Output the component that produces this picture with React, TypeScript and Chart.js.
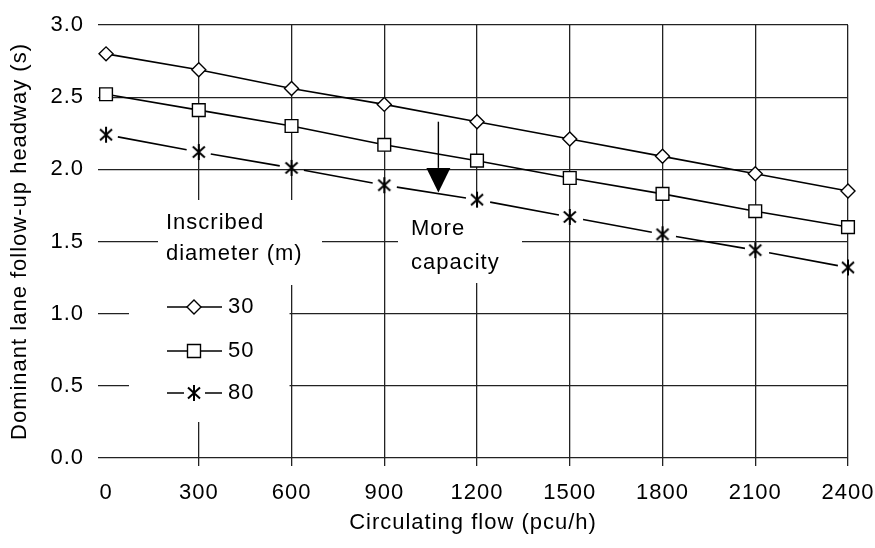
import React, { useEffect, useRef } from "react";
import { Chart, registerables } from "chart.js";

Chart.register(...registerables);

// ---------- data ----------
const flowValues = [0, 300, 600, 900, 1200, 1500, 1800, 2100, 2400];
const headway30 = [2.8, 2.69, 2.56, 2.45, 2.33, 2.21, 2.09, 1.97, 1.85];
const headway50 = [2.52, 2.41, 2.3, 2.17, 2.06, 1.94, 1.83, 1.71, 1.6];
const headway80 = [2.24, 2.12, 2.01, 1.89, 1.79, 1.67, 1.55, 1.44, 1.32];
const seriesLabels = ["30", "50", "80"];
const xTicks = [0, 300, 600, 900, 1200, 1500, 1800, 2100, 2400];
const yTicks = [0, 0.5, 1, 1.5, 2, 2.5, 3];
const xTitle = "Circulating flow (pcu/h)";
const yTitle = "Dominant lane follow-up headway (s)";
const legendTitle = ["Inscribed", "diameter (m)"];
const annotationText = ["More", "capacity"];

// arrow annotation (data coordinates)
const arrowFlow = 1075;
const arrowFromHeadway = 2.33;
const arrowHeadTopHeadway = 2.01;
const arrowTipHeadway = 1.84;

const FONT = "'Liberation Sans', Arial, sans-serif";
const INK = "#000";
const GRID = "#222";

function makeStar(): HTMLCanvasElement {
  const c = document.createElement("canvas");
  c.width = 16;
  c.height = 18;
  const g = c.getContext("2d")!;
  g.strokeStyle = INK;
  g.lineWidth = 2;
  g.beginPath();
  g.moveTo(8, 1);
  g.lineTo(8, 17);
  g.moveTo(2, 3.5);
  g.lineTo(14, 14.5);
  g.moveTo(14, 3.5);
  g.lineTo(2, 14.5);
  g.stroke();
  return c;
}

function drawDiamond(ctx: CanvasRenderingContext2D, x: number, y: number, r: number) {
  ctx.beginPath();
  ctx.moveTo(x, y - r);
  ctx.lineTo(x + r, y);
  ctx.lineTo(x, y + r);
  ctx.lineTo(x - r, y);
  ctx.closePath();
  ctx.fillStyle = "#fff";
  ctx.fill();
  ctx.stroke();
}

function drawSquare(ctx: CanvasRenderingContext2D, x: number, y: number, h: number) {
  ctx.beginPath();
  ctx.rect(x - h, y - h, 2 * h, 2 * h);
  ctx.fillStyle = "#fff";
  ctx.fill();
  ctx.stroke();
}

export default function App() {
  const ref = useRef<HTMLCanvasElement | null>(null);

  useEffect(() => {
    const canvas = ref.current;
    if (!canvas) return;
    const star = makeStar();

    const overlay = {
      id: "overlay",
      beforeDraw(chart: any) {
        const ctx = chart.ctx as CanvasRenderingContext2D;
        ctx.save();
        ctx.fillStyle = "#fff";
        ctx.fillRect(0, 0, chart.width, chart.height);
        ctx.restore();
        (ctx as any).letterSpacing = "1px";
      },
      beforeDatasetsDraw(chart: any) {
        const ctx = chart.ctx as CanvasRenderingContext2D;
        const xs = chart.scales.x;
        const x600 = xs.getPixelForValue(600);
        ctx.save();
        ctx.fillStyle = "#fff";
        // box behind "Inscribed diameter (m)"
        ctx.fillRect(158, 200, 164, 85);
        // legend box
        ctx.fillRect(129, 285, x600 - 2 - 129, 137);
        // box behind "More capacity"
        ctx.fillRect(398, 207, 124, 76);
        ctx.restore();
      },
      afterDatasetsDraw(chart: any) {
        const ctx = chart.ctx as CanvasRenderingContext2D;
        const xs = chart.scales.x;
        const ys = chart.scales.y;
        ctx.save();
        (ctx as any).letterSpacing = "1px";
        ctx.fillStyle = INK;
        ctx.font = `22px ${FONT}`;
        ctx.textAlign = "left";
        ctx.textBaseline = "middle";
        ctx.fillText(legendTitle[0], 166, 223);
        ctx.fillText(legendTitle[1], 166, 254);
        ctx.fillText(annotationText[0], 411, 229);
        ctx.fillText(annotationText[1], 411, 263);

        // legend entries
        const rows = [307, 351, 393];
        ctx.strokeStyle = INK;
        ctx.lineWidth = 1.6;
        // 30
        ctx.beginPath();
        ctx.moveTo(167, rows[0]);
        ctx.lineTo(222, rows[0]);
        ctx.stroke();
        ctx.lineWidth = 1.4;
        drawDiamond(ctx, 194, rows[0], 7);
        // 50
        ctx.lineWidth = 1.6;
        ctx.beginPath();
        ctx.moveTo(167, rows[1]);
        ctx.lineTo(222, rows[1]);
        ctx.stroke();
        ctx.lineWidth = 1.4;
        drawSquare(ctx, 194, rows[1], 6.5);
        // 80
        ctx.lineWidth = 1.6;
        ctx.beginPath();
        ctx.moveTo(167, rows[2]);
        ctx.lineTo(184, rows[2]);
        ctx.moveTo(205, rows[2]);
        ctx.lineTo(222, rows[2]);
        ctx.stroke();
        ctx.drawImage(star, 194 - star.width / 2, rows[2] - star.height / 2);
        ctx.fillStyle = INK;
        ctx.fillText(seriesLabels[0], 228, rows[0]);
        ctx.fillText(seriesLabels[1], 228, rows[1]);
        ctx.fillText(seriesLabels[2], 228, rows[2]);

        // arrow
        const ax = xs.getPixelForValue(arrowFlow);
        const ay0 = ys.getPixelForValue(arrowFromHeadway);
        const ay1 = ys.getPixelForValue(arrowHeadTopHeadway);
        const ay2 = ys.getPixelForValue(arrowTipHeadway);
        ctx.lineWidth = 1.4;
        ctx.beginPath();
        ctx.moveTo(ax, ay0);
        ctx.lineTo(ax, ay1);
        ctx.stroke();
        ctx.beginPath();
        ctx.moveTo(ax - 12, ay1);
        ctx.lineTo(ax + 12, ay1);
        ctx.lineTo(ax, ay2);
        ctx.closePath();
        ctx.fillStyle = INK;
        ctx.fill();
        ctx.restore();
      },
    };

    const mk = (vals: number[]) => flowValues.map((f, i) => ({ x: f, y: vals[i] }));

    const chart = new Chart(canvas, {
      type: "line",
      data: {
        datasets: [
          {
            label: seriesLabels[0],
            data: mk(headway30),
            borderColor: INK,
            borderWidth: 1.6,
            pointStyle: "rectRot",
            pointRadius: 7,
            pointBackgroundColor: "#fff",
            pointBorderColor: INK,
            pointBorderWidth: 1.4,
            tension: 0,
            clip: false,
          },
          {
            label: seriesLabels[1],
            data: mk(headway50),
            borderColor: INK,
            borderWidth: 1.6,
            pointStyle: "rect",
            pointRadius: 9,
            pointBackgroundColor: "#fff",
            pointBorderColor: INK,
            pointBorderWidth: 1.4,
            tension: 0,
            clip: false,
          },
          {
            label: seriesLabels[2],
            data: mk(headway80),
            borderColor: INK,
            borderWidth: 1.6,
            borderDash: [70, 24.5],
            borderDashOffset: 82.5,
            pointStyle: star as any,
            pointRadius: 8,
            tension: 0,
            clip: false,
          },
        ],
      } as any,
      options: {
        responsive: false,
        animation: false,
        events: [],
        font: { family: FONT, size: 22 },
        color: INK,
        layout: { padding: { left: 0, top: 25, right: 27, bottom: 0 } },
        plugins: { legend: { display: false }, tooltip: { enabled: false } },
        scales: {
          x: {
            type: "linear",
            min: -26,
            max: 2400,
            afterBuildTicks: (s: any) => {
              s.ticks = xTicks.map((v) => ({ value: v }));
            },
            afterFit: (s: any) => {
              s.height = 90;
              s.paddingLeft = 0;
              s.paddingRight = 0;
            },
            grid: {
              color: (c: any) => (c.tick && c.tick.value === 0 ? "rgba(0,0,0,0)" : GRID),
              lineWidth: 1.3,
              drawTicks: true,
              tickLength: 8,
            },
            border: { display: false },
            ticks: {
              color: INK,
              font: { family: FONT, size: 22 },
              padding: 14,
              maxRotation: 0,
              autoSkip: false,
              callback: (v: any) => String(v),
            },
            title: {
              display: true,
              text: xTitle,
              color: INK,
              font: { family: FONT, size: 22 },
              padding: { top: 0, bottom: 12 },
            },
          },
          y: {
            type: "linear",
            min: 0,
            max: 3,
            afterBuildTicks: (s: any) => {
              s.ticks = yTicks.map((v) => ({ value: v }));
            },
            afterFit: (s: any) => {
              s.width = 98;
              s.paddingTop = 0;
              s.paddingBottom = 0;
            },
            grid: { color: GRID, lineWidth: 1.3, drawTicks: false },
            border: { display: false },
            ticks: {
              color: INK,
              font: { family: FONT, size: 22 },
              padding: 14,
              callback: (v: any) => Number(v).toFixed(1),
            },
            title: {
              display: true,
              text: yTitle,
              color: INK,
              font: { family: FONT, size: 22 },
              padding: { top: 7, bottom: 0 },
            },
          },
        },
      } as any,
      plugins: [overlay as any],
    });

    return () => chart.destroy();
  }, []);

  return (
    <div style={{ position: "absolute", left: 0, top: 0, width: 875, height: 548, background: "#fff" }}>
      <canvas ref={ref} width={875} height={548} style={{ display: "block" }} />
    </div>
  );
}
